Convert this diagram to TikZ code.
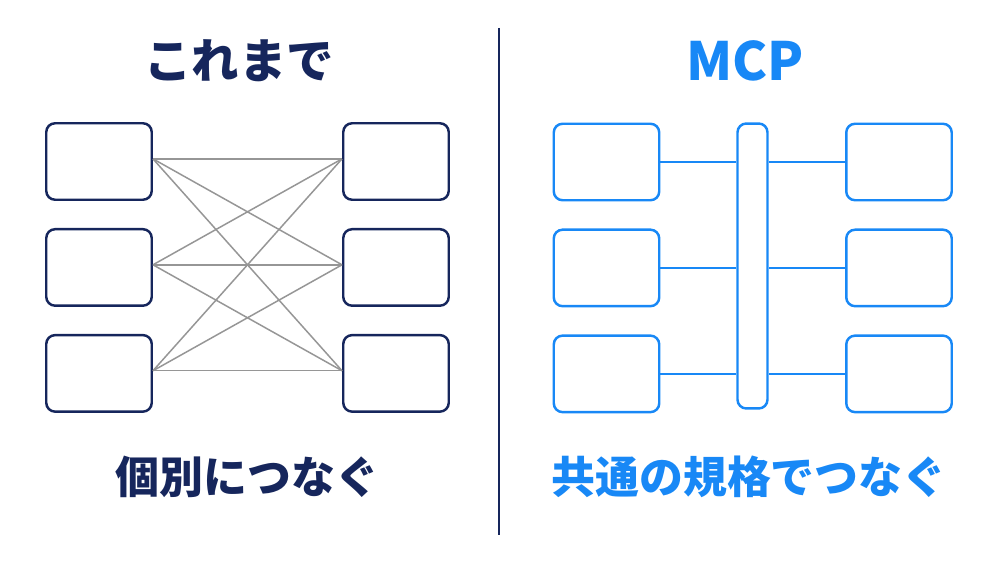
\documentclass[tikz,border=0pt]{standalone}
\usepackage{fontspec}
\usepackage{tikz}
\usetikzlibrary{positioning}
\newfontfamily\jpfont{Noto Sans CJK JP}
\definecolor{oldnavy}{RGB}{22, 38, 92}
\definecolor{mcpblue}{RGB}{24, 136, 246}
\definecolor{wiregray}{RGB}{150, 150, 150}

\begin{document}
\begin{tikzpicture}[
  x=0.02cm, y=-0.02cm,
  node distance=0.54cm and 3.7cm,
  box/.style={rectangle, rounded corners=5pt, line width=1.4pt, fill=white,
              minimum height=1.53cm, minimum width=2.11cm, inner sep=0pt},
  oldbox/.style={box, draw=oldnavy},
  newbox/.style={box, draw=mcpblue},
  wire/.style={draw=wiregray, line width=0.85pt},
  link/.style={draw=mcpblue, line width=1.1pt},
  head/.style={font=\jpfont\bfseries\fontsize{27}{30}\selectfont},
  foot/.style={font=\jpfont\bfseries\fontsize{25}{28}\selectfont},
]
  \useasboundingbox (0,0) rectangle (1000,563);

  % Left: point to point
  \node[oldbox] (l1) at (99,161.5) {};
  \node[oldbox, below=of l1] (l2) {};
  \node[oldbox, below=of l2] (l3) {};
  \node[oldbox] (r1) at (396,161.5) {};
  \node[oldbox, below=of r1] (r2) {};
  \node[oldbox, below=of r2] (r3) {};

  \foreach \i in {1,2,3}
    \foreach \j in {1,2,3}
      \draw[wire] ([yshift=1.5pt]l\i.east) -- ([yshift=1.5pt]r\j.west);

  % Divider
  \draw[oldnavy, line width=1.2pt] (499,28) -- (499,535);

  % Right: one shared protocol
  \node[newbox] (a1) at (606.5,162) {};
  \node[newbox, below=of a1] (a2) {};
  \node[newbox, below=of a2] (a3) {};
  \node[box, draw=mcpblue, minimum width=0.6cm, minimum height=5.7cm] (bus) at (752.5,266) {};
  \node[newbox] (b1) at (899,162) {};
  \node[newbox, below=of b1] (b2) {};
  \node[newbox, below=of b2] (b3) {};

  \foreach \i in {1,2,3} {
    \draw[link] (a\i.east) -- (a\i.east -| bus.west);
    \draw[link] (b\i.west) -- (b\i.west -| bus.east);
  }

  % Titles
  \node[head, text=oldnavy] (oldtitle) at (239,61) {これまで};
  \node[head, text=mcpblue, font=\jpfont\bfseries\fontsize{30}{33}\selectfont] (newtitle) at (745,61) {MCP};
  \node[foot, text=oldnavy] (oldfoot) at (247.5,477) {個別につなぐ};
  \node[foot, text=mcpblue] (newfoot) at (749,477) {共通の規格でつなぐ};
\end{tikzpicture}
\end{document}
